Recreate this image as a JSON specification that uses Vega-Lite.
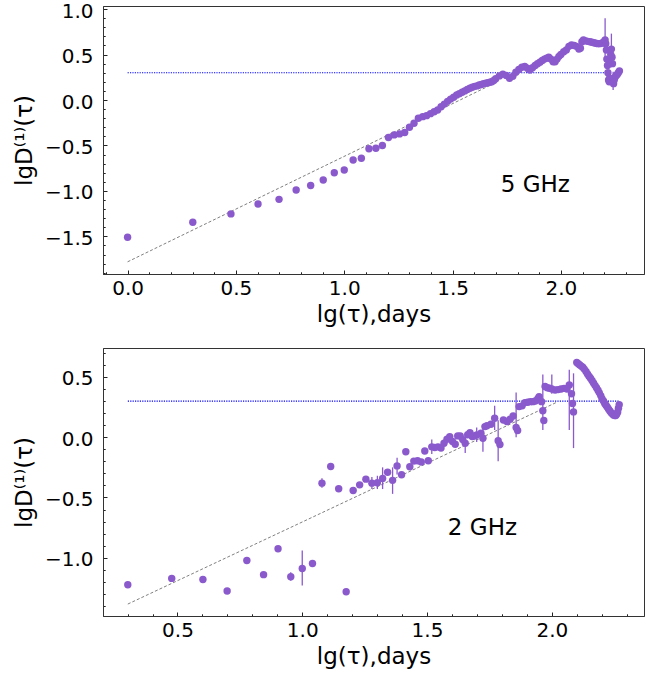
{
  "$schema": "https://vega.github.io/schema/vega-lite/v6.json",
  "autosize": {"type": "pad"},
  "padding": {"left": 12, "top": 0, "right": 5, "bottom": 5},
  "background": "white",
  "bounds": "flush",
  "spacing": 74,
  "config": {
    "font": "DejaVu Sans",
    "view": {"stroke": "#333", "strokeWidth": 1},
    "axis": {
      "grid": false, "ticks": true, "domainColor": "#333", "domainWidth": 1, "tickColor": "#222", "tickWidth": 1,
      "labelFont": "DejaVu Sans", "labelFontSize": 20, "labelColor": "#000",
      "titleFont": "DejaVu Sans", "titleFontSize": 23, "titleFontWeight": "normal", "titleColor": "#000",
      "labelOverlap": false, "labelFlush": false, "labelBound": false,
      "labelExpr": "abs(datum.value*2 - round(datum.value*2)) < 0.001 ? replace(format(datum.value, '.1f'), '-', '−') : ''",
      "tickSize": {"condition": {"test": "abs(datum.value*2 - round(datum.value*2)) > 0.001", "value": -2.2}, "value": -4}
    },
    "axisX": {"labelPadding": 8, "titlePadding": 4},
    "axisY": {"labelPadding": 14, "titlePadding": 8, "labelOffset": 2}
  },
  "datasets": {
    "top": [
      {"x":0,"y":-1.51},{"x":0.301,"y":-1.345},{"x":0.477,"y":-1.253},{"x":0.602,"y":-1.144},{"x":0.699,"y":-1.093},
      {"x":0.778,"y":-0.99},{"x":0.845,"y":-0.94},{"x":0.903,"y":-0.88},{"x":0.954,"y":-0.8},{"x":1.0,"y":-0.77},
      {"x":1.041,"y":-0.66},{"x":1.079,"y":-0.64},{"x":1.114,"y":-0.537},{"x":1.146,"y":-0.53},{"x":1.176,"y":-0.5},
      {"x":1.204,"y":-0.413},{"x":1.23,"y":-0.384},{"x":1.255,"y":-0.373},{"x":1.279,"y":-0.358},{"x":1.301,"y":-0.3},
      {"x":1.322,"y":-0.256},{"x":1.342,"y":-0.2},{"x":1.362,"y":-0.183},{"x":1.38,"y":-0.172},{"x":1.398,"y":-0.15},
      {"x":1.415,"y":-0.13},{"x":1.431,"y":-0.11},{"x":1.447,"y":-0.075},{"x":1.462,"y":-0.045},{"x":1.477,"y":-0.015},
      {"x":1.491,"y":0.01},{"x":1.505,"y":0.03},{"x":1.519,"y":0.055},{"x":1.531,"y":0.07},{"x":1.544,"y":0.085},
      {"x":1.556,"y":0.1},{"x":1.568,"y":0.115},{"x":1.58,"y":0.13},{"x":1.591,"y":0.14},{"x":1.602,"y":0.15},
      {"x":1.613,"y":0.155},{"x":1.623,"y":0.165},{"x":1.633,"y":0.17},{"x":1.643,"y":0.18},{"x":1.653,"y":0.185},
      {"x":1.663,"y":0.19},{"x":1.672,"y":0.195},{"x":1.681,"y":0.2},{"x":1.69,"y":0.215},{"x":1.699,"y":0.235},
      {"x":1.716,"y":0.265},{"x":1.732,"y":0.285},{"x":1.748,"y":0.27},{"x":1.763,"y":0.24},{"x":1.778,"y":0.26},
      {"x":1.792,"y":0.305},{"x":1.806,"y":0.335},{"x":1.82,"y":0.36},{"x":1.833,"y":0.37},{"x":1.845,"y":0.35},
      {"x":1.857,"y":0.33},{"x":1.869,"y":0.355},{"x":1.881,"y":0.38},{"x":1.892,"y":0.4},{"x":1.903,"y":0.415},
      {"x":1.914,"y":0.435},{"x":1.924,"y":0.45},{"x":1.934,"y":0.46},{"x":1.944,"y":0.47},{"x":1.954,"y":0.45},
      {"x":1.964,"y":0.42},{"x":1.973,"y":0.42},{"x":1.982,"y":0.45},{"x":1.991,"y":0.48},{"x":2.0,"y":0.5},
      {"x":2.013,"y":0.53},{"x":2.025,"y":0.55},{"x":2.037,"y":0.59},{"x":2.049,"y":0.605},{"x":2.061,"y":0.6},
      {"x":2.072,"y":0.59},{"x":2.083,"y":0.56},{"x":2.09,"y":0.57},{"x":2.097,"y":0.64},{"x":2.104,"y":0.66},
      {"x":2.114,"y":0.65},{"x":2.124,"y":0.645},{"x":2.134,"y":0.64},{"x":2.143,"y":0.635},{"x":2.152,"y":0.63},
      {"x":2.161,"y":0.625},{"x":2.17,"y":0.62},{"x":2.179,"y":0.62},{"x":2.188,"y":0.625},{"x":2.196,"y":0.635},
      {"x":2.204,"y":0.66,"lo":0.42,"hi":0.9},{"x":2.207,"y":0.62},{"x":2.21,"y":0.55},{"x":2.212,"y":0.45},
      {"x":2.215,"y":0.38},{"x":2.217,"y":0.3},{"x":2.22,"y":0.22},{"x":2.223,"y":0.2},{"x":2.225,"y":0.24},
      {"x":2.228,"y":0.4},{"x":2.23,"y":0.5},{"x":2.233,"y":0.56,"lo":0.4,"hi":0.73},{"x":2.236,"y":0.47},
      {"x":2.238,"y":0.4},{"x":2.241,"y":0.21,"lo":0.11,"hi":0.31},{"x":2.243,"y":0.18},{"x":2.246,"y":0.22},
      {"x":2.25,"y":0.25},{"x":2.255,"y":0.27},{"x":2.26,"y":0.28},{"x":2.265,"y":0.3},{"x":2.27,"y":0.32}
    ],
    "bottom": [
      {"x":0.301,"y":-1.224},{"x":0.477,"y":-1.171},{"x":0.602,"y":-1.18},{"x":0.699,"y":-1.276},{"x":0.778,"y":-1.022},
      {"x":0.845,"y":-1.14},{"x":0.903,"y":-0.925},{"x":0.954,"y":-1.157,"lo":-1.19,"hi":-1.12},
      {"x":1.0,"y":-1.089,"lo":-1.23,"hi":-0.94},{"x":1.041,"y":-1.047},{"x":1.079,"y":-0.381,"lo":-0.42,"hi":-0.34},
      {"x":1.114,"y":-0.243},{"x":1.146,"y":-0.428},{"x":1.176,"y":-1.282},{"x":1.204,"y":-0.442},{"x":1.23,"y":-0.395},
      {"x":1.255,"y":-0.348},{"x":1.279,"y":-0.381,"lo":-0.43,"hi":-0.33},{"x":1.301,"y":-0.378,"lo":-0.43,"hi":-0.32},
      {"x":1.322,"y":-0.342,"lo":-0.43,"hi":-0.25},{"x":1.342,"y":-0.29},{"x":1.362,"y":-0.358,"lo":-0.47,"hi":-0.25},
      {"x":1.38,"y":-0.238,"lo":-0.31,"hi":-0.17},{"x":1.398,"y":-0.312},{"x":1.415,"y":-0.12},{"x":1.431,"y":-0.245},
      {"x":1.447,"y":-0.198},{"x":1.462,"y":-0.195},{"x":1.477,"y":-0.205},{"x":1.491,"y":-0.115},{"x":1.505,"y":-0.195},
      {"x":1.519,"y":-0.08,"lo":-0.14,"hi":-0.02},{"x":1.531,"y":-0.085},{"x":1.544,"y":-0.08},{"x":1.556,"y":-0.09},
      {"x":1.568,"y":-0.05},{"x":1.58,"y":-0.017},{"x":1.591,"y":0.005},{"x":1.602,"y":-0.036},{"x":1.613,"y":-0.058},
      {"x":1.623,"y":0.011},{"x":1.633,"y":0.011},{"x":1.643,"y":-0.02},{"x":1.653,"y":-0.05,"lo":-0.13,"hi":0.03},
      {"x":1.663,"y":0.02},{"x":1.672,"y":0.038},{"x":1.681,"y":0.005},{"x":1.69,"y":0.01},
      {"x":1.699,"y":0.019,"lo":-0.04,"hi":0.08},{"x":1.716,"y":0.033},{"x":1.724,"y":-0.008,"lo":-0.12,"hi":0.1},
      {"x":1.732,"y":0.088},{"x":1.74,"y":0.095},{"x":1.756,"y":0.108},{"x":1.771,"y":0.157,"lo":0.06,"hi":0.26},
      {"x":1.785,"y":-0.03,"lo":-0.2,"hi":0.14},{"x":1.792,"y":-0.06},{"x":1.806,"y":0.143},{"x":1.82,"y":0.13},
      {"x":1.833,"y":0.149},{"x":1.845,"y":0.176},{"x":1.857,"y":0.08,"lo":0.0,"hi":0.37},{"x":1.863,"y":0.055},
      {"x":1.869,"y":0.254},{"x":1.881,"y":0.26},{"x":1.892,"y":0.287},{"x":1.903,"y":0.29},{"x":1.914,"y":0.295},
      {"x":1.924,"y":0.295},{"x":1.934,"y":0.3},{"x":1.944,"y":0.32},{"x":1.949,"y":0.336},{"x":1.959,"y":0.295},
      {"x":1.964,"y":0.22,"lo":0.06,"hi":0.52},{"x":1.968,"y":0.138},{"x":1.973,"y":0.42},{"x":1.982,"y":0.41},
      {"x":1.991,"y":0.406},{"x":2.0,"y":0.4,"lo":0.36,"hi":0.52},{"x":2.013,"y":0.392},{"x":2.025,"y":0.395},
      {"x":2.037,"y":0.4},{"x":2.049,"y":0.405},{"x":2.061,"y":0.4},{"x":2.07,"y":0.433,"lo":0.06,"hi":0.56},
      {"x":2.079,"y":0.36},{"x":2.083,"y":0.28},{"x":2.087,"y":0.21,"lo":-0.09,"hi":0.53},
      {"x":2.1,"y":0.62},{"x":2.106,"y":0.61},{"x":2.112,"y":0.6},{"x":2.118,"y":0.59},{"x":2.124,"y":0.58},
      {"x":2.13,"y":0.565},{"x":2.137,"y":0.545},{"x":2.143,"y":0.525},{"x":2.149,"y":0.505},{"x":2.155,"y":0.49},
      {"x":2.161,"y":0.47},{"x":2.167,"y":0.45},{"x":2.173,"y":0.43},{"x":2.179,"y":0.41},{"x":2.185,"y":0.39},
      {"x":2.19,"y":0.37},{"x":2.196,"y":0.345},{"x":2.201,"y":0.32},{"x":2.207,"y":0.3},{"x":2.212,"y":0.28},
      {"x":2.217,"y":0.265},{"x":2.222,"y":0.25},{"x":2.227,"y":0.235},{"x":2.232,"y":0.22},{"x":2.237,"y":0.205},
      {"x":2.242,"y":0.195},{"x":2.247,"y":0.185},{"x":2.252,"y":0.18},{"x":2.256,"y":0.18},{"x":2.26,"y":0.19},
      {"x":2.264,"y":0.21},{"x":2.267,"y":0.24},{"x":2.27,"y":0.27}
    ],
    "topFit": [{"x":0,"y":-1.78},{"x":1.68,"y":0.169}],
    "bottomFit": [{"x":0.301,"y":-1.384},{"x":2.023,"y":0.293}],
    "topLevel": [{"x":0,"x2":2.23,"y":0.3}],
    "bottomLevel": [{"x":0.301,"x2":2.27,"y":0.3}],
    "topLabel": [{"x":1.882,"y":-0.935,"label":"5 GHz"}],
    "bottomLabel": [{"x":1.722,"y":-0.754,"label":"2 GHz"}]
  },
  "vconcat": [
    {
      "width": 541, "height": 268,
      "encoding": {
        "x": {"field": "x", "type": "quantitative", "title": "lg(τ),days",
          "scale": {"domain": [-0.1135, 2.3835], "nice": false, "zero": false},
          "axis": {"values": [-0.1,0,0.1,0.2,0.3,0.4,0.5,0.6,0.7,0.8,0.9,1,1.1,1.2,1.3,1.4,1.5,1.6,1.7,1.8,1.9,2,2.1,2.2,2.3]}},
        "y": {"field": "y", "type": "quantitative", "title": "lgD⁽¹⁾(τ)",
          "scale": {"domain": [-1.914, 1.034], "nice": false, "zero": false},
          "axis": {"values": [-1.9,-1.8,-1.7,-1.6,-1.5,-1.4,-1.3,-1.2,-1.1,-1,-0.9,-0.8,-0.7,-0.6,-0.5,-0.4,-0.3,-0.2,-0.1,0,0.1,0.2,0.3,0.4,0.5,0.6,0.7,0.8,0.9,1]}}
      },
      "layer": [
        {"data": {"name": "topLevel"}, "mark": {"type": "rule", "color": "#0000ff", "strokeWidth": 1.2, "strokeDash": [1.2, 1.2]},
         "encoding": {"x2": {"field": "x2"}}},
        {"data": {"name": "topFit"}, "mark": {"type": "line", "color": "#808080", "strokeWidth": 1, "strokeDash": [3, 2]}, "encoding": {}},
        {"data": {"name": "top"}, "transform": [{"filter": "isValid(datum.lo)"}],
         "mark": {"type": "rule", "color": "#8a5acd", "strokeWidth": 1.3},
         "encoding": {"y": {"field": "lo", "type": "quantitative"}, "y2": {"field": "hi"}}},
        {"data": {"name": "top"}, "mark": {"type": "circle", "color": "#8a5acd", "opacity": 1, "size": 55}, "encoding": {}},
        {"data": {"name": "topLabel"}, "mark": {"type": "text", "font": "DejaVu Sans", "fontSize": 23, "color": "#000", "align": "center", "baseline": "middle"},
         "encoding": {"text": {"field": "label"}}}
      ]
    },
    {
      "width": 541, "height": 268,
      "encoding": {
        "x": {"field": "x", "type": "quantitative", "title": "lg(τ),days",
          "scale": {"domain": [0.2016, 2.3694], "nice": false, "zero": false},
          "axis": {"values": [0.3,0.4,0.5,0.6,0.7,0.8,0.9,1,1.1,1.2,1.3,1.4,1.5,1.6,1.7,1.8,1.9,2,2.1,2.2,2.3]}},
        "y": {"field": "y", "type": "quantitative", "title": "lgD⁽¹⁾(τ)",
          "scale": {"domain": [-1.483, 0.74], "nice": false, "zero": false},
          "axis": {"values": [-1.4,-1.3,-1.2,-1.1,-1,-0.9,-0.8,-0.7,-0.6,-0.5,-0.4,-0.3,-0.2,-0.1,0,0.1,0.2,0.3,0.4,0.5,0.6,0.7]}}
      },
      "layer": [
        {"data": {"name": "bottomLevel"}, "mark": {"type": "rule", "color": "#0000ff", "strokeWidth": 1.2, "strokeDash": [1.2, 1.2]},
         "encoding": {"x2": {"field": "x2"}}},
        {"data": {"name": "bottomFit"}, "mark": {"type": "line", "color": "#808080", "strokeWidth": 1, "strokeDash": [3, 2]}, "encoding": {}},
        {"data": {"name": "bottom"}, "transform": [{"filter": "isValid(datum.lo)"}],
         "mark": {"type": "rule", "color": "#8a5acd", "strokeWidth": 1.3},
         "encoding": {"y": {"field": "lo", "type": "quantitative"}, "y2": {"field": "hi"}}},
        {"data": {"name": "bottom"}, "mark": {"type": "circle", "color": "#8a5acd", "opacity": 1, "size": 55}, "encoding": {}},
        {"data": {"name": "bottomLabel"}, "mark": {"type": "text", "font": "DejaVu Sans", "fontSize": 23, "color": "#000", "align": "center", "baseline": "middle"},
         "encoding": {"text": {"field": "label"}}}
      ]
    }
  ]
}
